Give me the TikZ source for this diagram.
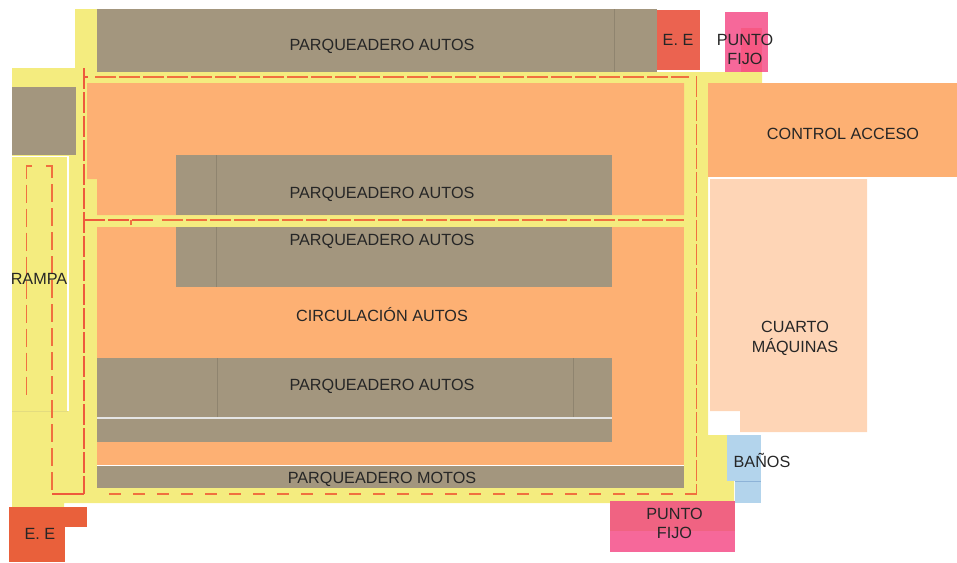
\documentclass[tikz,border=0pt]{standalone}
\usepackage{fontspec}
\setmainfont{Liberation Sans}
\definecolor{yel}{HTML}{F4EC7F}
\definecolor{ora}{HTML}{FDB073}
\definecolor{gra}{HTML}{A3967E}
\definecolor{grl}{HTML}{8F846F}
\definecolor{peach}{HTML}{FED5B6}
\definecolor{redb}{HTML}{EB6350}
\definecolor{redc}{HTML}{E9603B}
\definecolor{pink}{HTML}{F6689A}
\definecolor{pinkd}{HTML}{F06382}
\definecolor{blu}{HTML}{B3D4EC}
\definecolor{blud}{HTML}{8DB3D8}
\definecolor{das}{HTML}{F0703F}
\definecolor{dasr}{HTML}{EE5A3C}
\tikzset{
  fl/.style={fill=#1,draw=none},
  lab/.style={font=\fontsize{16.2}{19.5}\selectfont,text=black!85,align=center,inner sep=0pt,text depth=0pt},
  route/.style={draw=das,line width=1.9pt,dash pattern=on 20.5pt off 3.5pt},
  routeb/.style={draw=das,line width=1.9pt,dash pattern=on 12pt off 12pt},
  routec/.style={draw=das,line width=1.9pt,dash pattern=on 18pt off 6pt},
  router/.style={draw=dasr,line width=1.9pt,dash pattern=on 21pt off 3pt},
  solidr/.style={draw=dasr,line width=1.9pt},
  div/.style={draw=grl,line width=0.6pt},
  wl/.style={draw=white,line width=1.2pt}
}
\begin{document}
\begin{tikzpicture}[x=1pt,y=-1pt]
\useasboundingbox (0,0) rectangle (957,562);
% yellow circulation
\fill[yel] (75,9) -- (97,9) -- (97,72) -- (762,72) -- (762,83) -- (708,83) -- (708,435) -- (734,435) -- (734,503) -- (64,503) -- (64,507) -- (12,507) -- (12,68) -- (75,68) -- cycle;
% orange areas
\fill[ora] (87,83) -- (684,83) -- (684,215) -- (97,215) -- (97,179) -- (87,179) -- cycle;
\fill[ora] (97,227) rectangle (684,465);
\fill[ora] (708,83) rectangle (957,177);
\path[fl=peach] (710,179) -- (867,179) -- (867,432) -- (740,432) -- (740,411) -- (710,411) -- cycle;
% grey parking
\fill[gra] (97,9) rectangle (657,72);
\fill[gra] (12,87) rectangle (76,155);
\fill[gra] (176,155) rectangle (612,215);
\fill[gra] (176,227) rectangle (612,287);
\fill[gra] (97,358) rectangle (612,442);
\fill[gra] (97,466) rectangle (684,488);
% dividers
\coordinate (d1a) at (614,9); \coordinate (d1b) at (614,72);
\coordinate (d2a) at (216,155); \coordinate (d2b) at (216,215);
\coordinate (d3a) at (216,227); \coordinate (d3b) at (216,287);
\coordinate (d4a) at (217.5,358); \coordinate (d4b) at (217.5,417);
\coordinate (d5a) at (573.5,358); \coordinate (d5b) at (573.5,417);
\draw[div] (d1a) -- (d1b); \draw[div] (d2a) -- (d2b); \draw[div] (d3a) -- (d3b);
\draw[div] (d4a) -- (d4b); \draw[div] (d5a) -- (d5b);
% white lines
\coordinate (w1a) at (97,418); \coordinate (w1b) at (612,418);
\coordinate (w2a) at (97,465.3); \coordinate (w2b) at (684,465.3);
\coordinate (w3a) at (12,156.5); \coordinate (w3b) at (68,156.5); \coordinate (w3c) at (68,411);
\coordinate (w4a) at (12,411); \coordinate (w4b) at (68,411);
\draw[draw=white!80!gray,line width=1.2pt] (w1a) -- (w1b);
\draw[wl] (w2a) -- (w2b);
\draw[wl] (w3a) -- (w3b) -- (w3c);
\draw[draw=yel!85!gray,line width=0.5pt] (w4a) -- (w4b);
% service rooms
\fill[redb] (657,10) rectangle (700,70);
\fill[pink] (725,12) rectangle (768,72);
\fill[pink!85!red] (741,28) rectangle (762,72);
\fill[blu] (727,435) rectangle (761,481);
\fill[blu] (735,481) rectangle (761,503);
\coordinate (b1) at (735,481.2); \coordinate (b2) at (761,481.2);
\draw[blud,line width=1pt] (b1) -- (b2);
\fill[pink] (610,501) rectangle (735,552);
\fill[pinkd] (610,501) rectangle (735,531);
\fill[redc] (9,507) rectangle (65,562);
\fill[redc] (65,507) rectangle (87,527);
% dashed routes
\coordinate (r1) at (84,68); \coordinate (r2) at (84,494); \coordinate (r3) at (52,494);
\coordinate (r4) at (52,166); \coordinate (r5) at (46,166);
\coordinate (r6) at (32,166); \coordinate (r7) at (26.5,166); \coordinate (r8) at (26.5,398);
\coordinate (r9) at (95,77); \coordinate (r10) at (689,77);
\coordinate (r11) at (696.5,76); \coordinate (r12) at (696.5,494); \coordinate (r13) at (97,494);
\coordinate (r14) at (84,220); \coordinate (r15) at (153.5,220); \coordinate (r16) at (131,220); \coordinate (r17) at (131,225);
\coordinate (r18) at (162,220); \coordinate (r19) at (684,220);
\coordinate (r20) at (84,77); \coordinate (r21) at (88,77);
\coordinate (r22) at (84,216); \coordinate (r23) at (84,224);
\draw[router] (r1) -- (r2);
\draw[solidr] (r2) -- (r3);
\draw[routec] (r5) -- (r4) -- (r3);
\draw[routec] (r6) -- (r7) -- (r8);
\draw[route] (r9) -- (r10);
\draw[route] (r11) -- (r12);
\draw[routeb] (r12) -- (r13);
\draw[router] (r14) -- (r15);
\draw[draw=das,line width=1.9pt] (r17) -- (r16);
\draw[route] (r18) -- (r19);
\draw[solidr] (r20) -- (r21);
\draw[solidr] (r22) -- (r23);
% labels
\node[lab] (p1) at (382,45) {PARQUEADERO AUTOS};
\node[lab] (p2) at (382,193) {PARQUEADERO AUTOS};
\node[lab] (p3) at (382,240) {PARQUEADERO AUTOS};
\node[lab] (p4) at (382,385) {PARQUEADERO AUTOS};
\node[lab] (p5) at (382,478) {PARQUEADERO MOTOS};
\node[lab] (c1) at (382,314) {CIRCULACIÓN AUTOS};
\node[lab] (ra) at (39,279) {RAMPA};
\node[lab] (ca) at (843,134) {CONTROL ACCESO};
\node[lab] (cm) at (795,337) {CUARTO\\MÁQUINAS};
\node[lab] (e1) at (678,40) {E. E};
\node[lab] (f1) at (745,49.5) {PUNTO\\FIJO};
\node[lab] (ba) at (762,460) {BAÑOS};
\node[lab] (f2) at (674.5,523.5) {PUNTO\\FIJO};
\node[lab] (e2) at (40,534) {E. E};
\end{tikzpicture}
\end{document}
